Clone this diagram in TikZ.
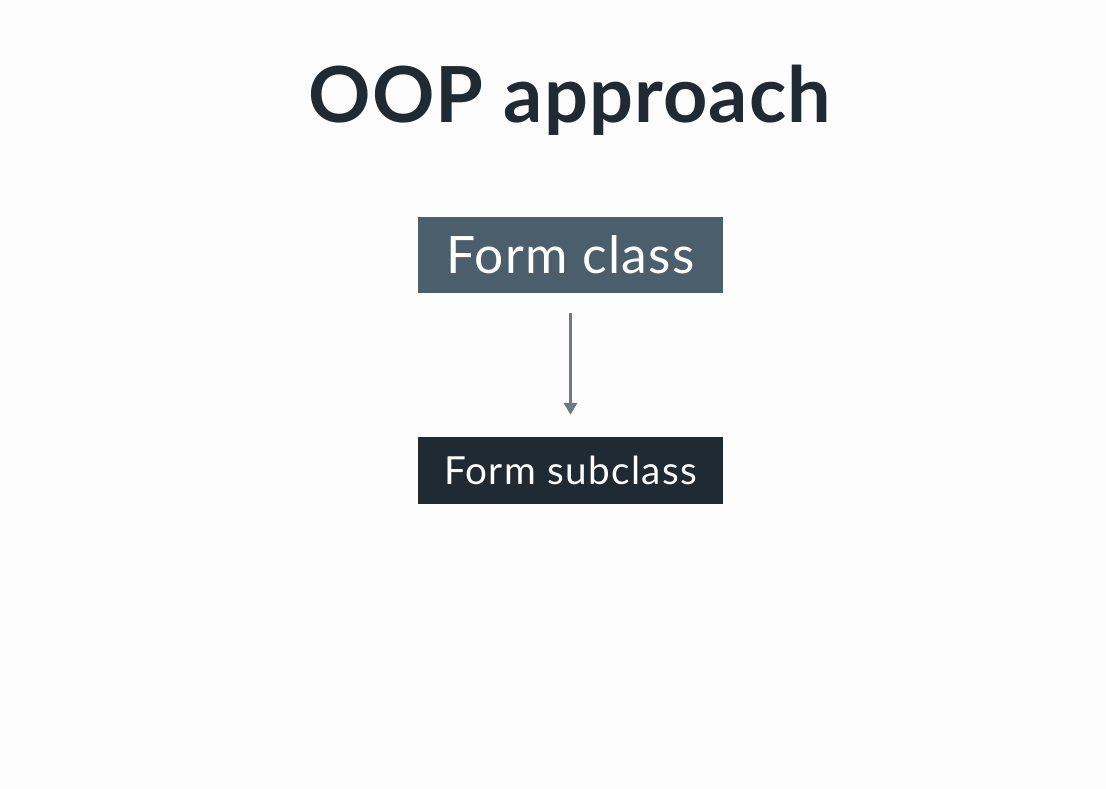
\documentclass[tikz,border=0pt]{standalone}
\usepackage{fontspec}
\setmainfont{Lato}
\definecolor{ink}{HTML}{1F2A32}
\definecolor{slate}{HTML}{4B5E6C}
\definecolor{arrowgray}{HTML}{6E7A83}
\definecolor{paper}{HTML}{FDFDFD}
\usetikzlibrary{arrows.meta,positioning}

\begin{document}
\begin{tikzpicture}[
 x=0.03cm,y=-0.03cm,
 box/.style={inner sep=0pt,minimum width=305*0.03cm,text=white},
 arr/.style={-{Triangle[length=3.6mm,width=4mm]},draw=arrowgray,line width=2.2pt}]
\fill[paper] (0,0) rectangle (1106,789);
\useasboundingbox (0,0) rectangle (1106,789);
\node[text=ink,font=\fontsize{66}{72}\selectfont\bfseries\addfontfeatures{LetterSpace=1.5}] (title) at (570,100) {OOP approach};
\node[box,fill=slate,minimum height=76*0.03cm,font=\fontsize{44}{50}\selectfont\addfontfeatures{LetterSpace=2.5}] (parent) at (570.5,255) {Form class};
\node[box,fill=ink,minimum height=67*0.03cm,font=\fontsize{33}{38}\selectfont\addfontfeatures{LetterSpace=3.5}] (child) at (570.5,470.5) {Form subclass};
\draw[arr] ([yshift=-20*0.03cm]parent.south) -- ([yshift=22*0.03cm]child.north);
\end{tikzpicture}
\end{document}
